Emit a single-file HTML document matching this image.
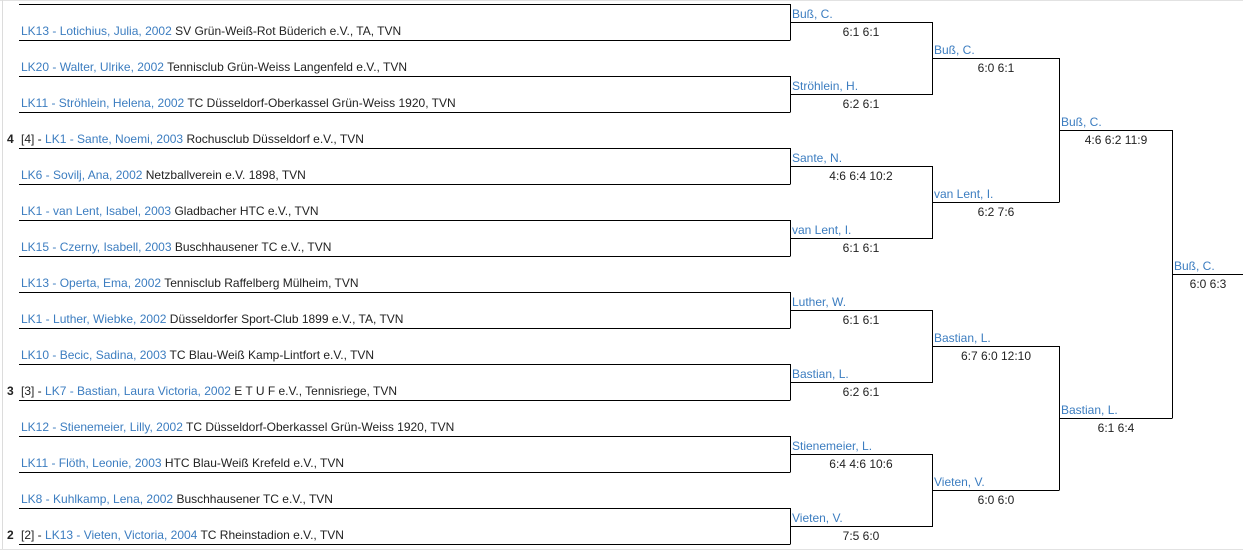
<!DOCTYPE html>
<html><head><meta charset="utf-8"><style>
html,body{margin:0;padding:0;background:#fff;}
svg{display:block;}
text{font-family:"Liberation Sans",Arial,sans-serif;font-size:12px;}
.b{fill:#3c7dc0;}
.k{fill:#222;}
</style></head><body>
<svg width="1243" height="553" viewBox="0 0 1243 553" xmlns="http://www.w3.org/2000/svg">
<rect x="0" y="0" width="1243" height="553" fill="#fff"/>
<line x1="0" y1="0.5" x2="1243" y2="0.5" stroke="#e2e2e2"/>
<line x1="2.5" y1="0" x2="2.5" y2="549" stroke="#dcdcdc"/>
<line x1="0" y1="549.5" x2="1243" y2="549.5" stroke="#e2e2e2"/>
<g stroke="#000" stroke-width="1" fill="none" shape-rendering="crispEdges">
<!-- player lines -->
<line x1="19" y1="4.5" x2="790" y2="4.5"/><line x1="19" y1="40.5" x2="790" y2="40.5"/>
<line x1="19" y1="76.5" x2="790" y2="76.5"/><line x1="19" y1="112.5" x2="790" y2="112.5"/>
<line x1="19" y1="148.5" x2="790" y2="148.5"/><line x1="19" y1="184.5" x2="790" y2="184.5"/>
<line x1="19" y1="220.5" x2="790" y2="220.5"/><line x1="19" y1="256.5" x2="790" y2="256.5"/>
<line x1="19" y1="292.5" x2="790" y2="292.5"/><line x1="19" y1="328.5" x2="790" y2="328.5"/>
<line x1="19" y1="364.5" x2="790" y2="364.5"/><line x1="19" y1="400.5" x2="790" y2="400.5"/>
<line x1="19" y1="436.5" x2="790" y2="436.5"/><line x1="19" y1="472.5" x2="790" y2="472.5"/>
<line x1="19" y1="508.5" x2="790" y2="508.5"/><line x1="19" y1="544.5" x2="790" y2="544.5"/>
<!-- R1 -->
<path d="M790.5 4V40.5M790 22.5H933"/><path d="M790.5 76V112.5M790 94.5H933"/>
<path d="M790.5 148V184.5M790 166.5H933"/><path d="M790.5 220V256.5M790 238.5H933"/>
<path d="M790.5 292V328.5M790 310.5H933"/><path d="M790.5 364V400.5M790 382.5H933"/>
<path d="M790.5 436V472.5M790 454.5H933"/><path d="M790.5 508V544.5M790 526.5H933"/>
<!-- R2 -->
<path d="M932.5 22V94.5M932 58.5H1059"/><path d="M932.5 166V238.5M932 202.5H1059"/>
<path d="M932.5 310V382.5M932 346.5H1059"/><path d="M932.5 454V526.5M932 490.5H1059"/>
<!-- R3 -->
<path d="M1059.5 58V202.5M1059 130.5H1172"/><path d="M1059.5 346V490.5M1059 418.5H1172"/>
<!-- Final -->
<path d="M1172.5 130V418.5M1172 274.5H1243"/>
</g>
<!-- players -->
<g>
<text x="21" y="35"><tspan class="b">LK13 - Lotichius, Julia, 2002</tspan><tspan class="k"> SV Grün-Weiß-Rot Büderich e.V., TA, TVN</tspan></text>
<text x="21" y="71"><tspan class="b">LK20 - Walter, Ulrike, 2002</tspan><tspan class="k"> Tennisclub Grün-Weiss Langenfeld e.V., TVN</tspan></text>
<text x="21" y="107"><tspan class="b">LK11 - Ströhlein, Helena, 2002</tspan><tspan class="k"> TC Düsseldorf-Oberkassel Grün-Weiss 1920, TVN</tspan></text>
<text x="7" y="143" class="k" font-weight="bold">4</text>
<text x="21" y="143"><tspan class="k">[4] - </tspan><tspan class="b">LK1 - Sante, Noemi, 2003</tspan><tspan class="k"> Rochusclub Düsseldorf e.V., TVN</tspan></text>
<text x="21" y="179"><tspan class="b">LK6 - Sovilj, Ana, 2002</tspan><tspan class="k"> Netzballverein e.V. 1898, TVN</tspan></text>
<text x="21" y="215"><tspan class="b">LK1 - van Lent, Isabel, 2003</tspan><tspan class="k"> Gladbacher HTC e.V., TVN</tspan></text>
<text x="21" y="251"><tspan class="b">LK15 - Czerny, Isabell, 2003</tspan><tspan class="k"> Buschhausener TC e.V., TVN</tspan></text>
<text x="21" y="287"><tspan class="b">LK13 - Operta, Ema, 2002</tspan><tspan class="k"> Tennisclub Raffelberg Mülheim, TVN</tspan></text>
<text x="21" y="323"><tspan class="b">LK1 - Luther, Wiebke, 2002</tspan><tspan class="k"> Düsseldorfer Sport-Club 1899 e.V., TA, TVN</tspan></text>
<text x="21" y="359"><tspan class="b">LK10 - Becic, Sadina, 2003</tspan><tspan class="k"> TC Blau-Weiß Kamp-Lintfort e.V., TVN</tspan></text>
<text x="7" y="395" class="k" font-weight="bold">3</text>
<text x="21" y="395"><tspan class="k">[3] - </tspan><tspan class="b">LK7 - Bastian, Laura Victoria, 2002</tspan><tspan class="k"> E T U F e.V., Tennisriege, TVN</tspan></text>
<text x="21" y="431"><tspan class="b">LK12 - Stienemeier, Lilly, 2002</tspan><tspan class="k"> TC Düsseldorf-Oberkassel Grün-Weiss 1920, TVN</tspan></text>
<text x="21" y="467"><tspan class="b">LK11 - Flöth, Leonie, 2003</tspan><tspan class="k"> HTC Blau-Weiß Krefeld e.V., TVN</tspan></text>
<text x="21" y="503"><tspan class="b">LK8 - Kuhlkamp, Lena, 2002</tspan><tspan class="k"> Buschhausener TC e.V., TVN</tspan></text>
<text x="7" y="539" class="k" font-weight="bold">2</text>
<text x="21" y="539"><tspan class="k">[2] - </tspan><tspan class="b">LK13 - Vieten, Victoria, 2004</tspan><tspan class="k"> TC Rheinstadion e.V., TVN</tspan></text>
</g>
<!-- R1 winners -->
<g class="b">
<text x="792" y="18">Buß, C.</text><text x="792" y="90">Ströhlein, H.</text>
<text x="792" y="162">Sante, N.</text><text x="792" y="234">van Lent, I.</text>
<text x="792" y="306">Luther, W.</text><text x="792" y="378">Bastian, L.</text>
<text x="792" y="450">Stienemeier, L.</text><text x="792" y="522">Vieten, V.</text>
<text x="934" y="54">Buß, C.</text><text x="934" y="198">van Lent, I.</text>
<text x="934" y="342">Bastian, L.</text><text x="934" y="486">Vieten, V.</text>
<text x="1061" y="126">Buß, C.</text><text x="1061" y="414">Bastian, L.</text>
<text x="1174" y="270">Buß, C.</text>
</g>
<g class="k" text-anchor="middle">
<text x="861" y="36">6:1 6:1</text><text x="861" y="108">6:2 6:1</text>
<text x="861" y="180">4:6 6:4 10:2</text><text x="861" y="252">6:1 6:1</text>
<text x="861" y="324">6:1 6:1</text><text x="861" y="396">6:2 6:1</text>
<text x="861" y="468">6:4 4:6 10:6</text><text x="861" y="540">7:5 6:0</text>
<text x="996" y="72">6:0 6:1</text><text x="996" y="216">6:2 7:6</text>
<text x="996" y="360">6:7 6:0 12:10</text><text x="996" y="504">6:0 6:0</text>
<text x="1116" y="144">4:6 6:2 11:9</text><text x="1116" y="432">6:1 6:4</text>
<text x="1208" y="288">6:0 6:3</text>
</g>
</svg>
</body></html>
